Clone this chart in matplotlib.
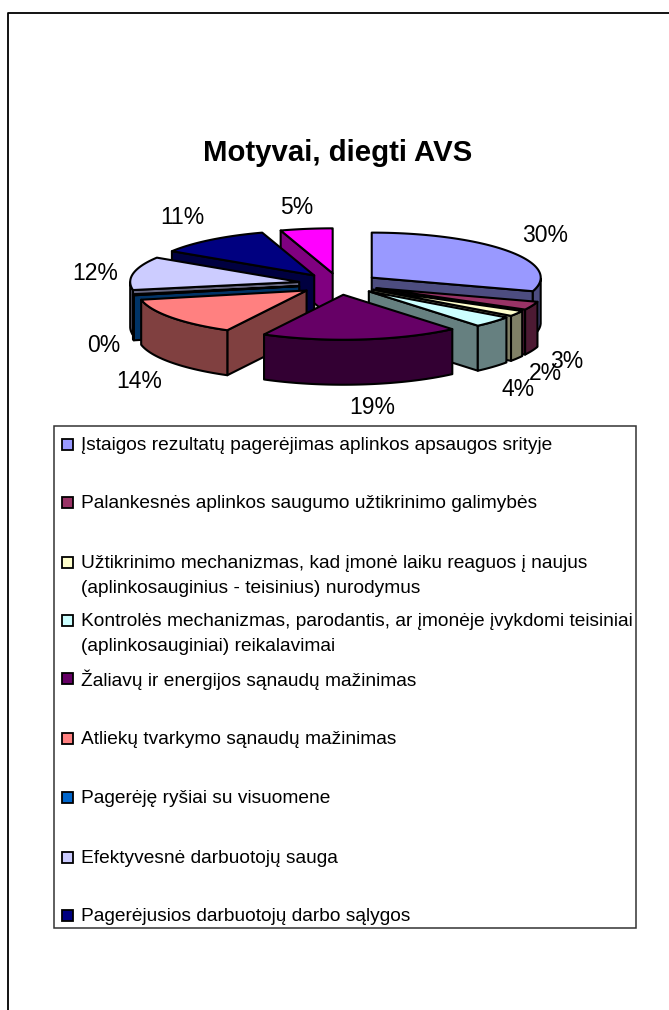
import numpy as np
import matplotlib
matplotlib.use("Agg")
import matplotlib.pyplot as plt
from matplotlib.patches import Polygon, Rectangle

plt.rcParams["font.family"] = ["Liberation Sans", "DejaVu Sans"]

# Data
title = "Motyvai, diegti AVS"
values = [30, 3, 2, 4, 19, 14, 0.4, 12, 11, 5]
top_colors = ["#9999ff", "#993366", "#ffffcc", "#ccffff", "#660066",
              "#ff8080", "#0066cc", "#ccccff", "#000080", "#ff00ff"]
legend_lines = [
    ["Įstaigos rezultatų pagerėjimas aplinkos apsaugos srityje"],
    ["Palankesnės aplinkos saugumo užtikrinimo galimybės"],
    ["Užtikrinimo mechanizmas, kad įmonė laiku reaguos į naujus",
     "(aplinkosauginius - teisinius) nurodymus"],
    ["Kontrolės mechanizmas, parodantis, ar įmonėje įvykdomi teisiniai",
     "(aplinkosauginiai) reikalavimai"],
    ["Žaliavų ir energijos sąnaudų mažinimas"],
    ["Atliekų tvarkymo sąnaudų mažinimas"],
    ["Pagerėję ryšiai su visuomene"],
    ["Efektyvesnė darbuotojų sauga"],
    ["Pagerėjusios darbuotojų darbo sąlygos"],
]

# Layout in pixels
cx, cy = 339, 284
rx, ry = 169, 45
depth = 45
explode = 0.24
label_pos = [(545, 235), (567, 362), (545, 373), (518, 390), (372, 407),
             (139, 382), (104, 345), (95, 273), (182, 218), (297, 207)]
legend_y = [444, 502, 562, 620, 678, 738, 797, 857, 915]

fig = plt.figure(figsize=(6.69, 10.10), dpi=100)
ax = fig.add_axes([0, 0, 1, 1])
ax.set_xlim(0, 669)
ax.set_ylim(1010, 0)
ax.axis("off")

# outer frame, open on the right and bottom
ax.plot([8, 8, 669], [1010, 13, 13], color="black", lw=1.3)


def darker(hex_color):
    rgb = np.array(matplotlib.colors.to_rgb(hex_color))
    return tuple(rgb * 0.5)


# Pie, drawn from the back to the front
total = sum(values)
edges = np.concatenate([[0], np.cumsum(values)]) / total * 2 * np.pi
mids = (edges[:-1] + edges[1:]) / 2
order = np.argsort(-np.cos(mids))

for i in order:
    a0, a1 = edges[i], edges[i + 1]
    ax0 = cx + explode * rx * np.sin(mids[i])
    ay0 = cy - explode * ry * np.cos(mids[i])
    t = np.linspace(a0, a1, 60)
    xs = ax0 + rx * np.sin(t)
    ys = ay0 - ry * np.cos(t)
    side = darker(top_colors[i])
    style = dict(facecolor=side, edgecolor="black", lw=1.5, joinstyle="round")

    # the two cut faces, only when they face the viewer
    if np.sin(a0) < 0:
        ax.add_patch(Polygon([(ax0, ay0), (xs[0], ys[0]), (xs[0], ys[0] + depth),
                              (ax0, ay0 + depth)], **style))
    if np.sin(a1) > 0:
        ax.add_patch(Polygon([(ax0, ay0), (xs[-1], ys[-1]), (xs[-1], ys[-1] + depth),
                              (ax0, ay0 + depth)], **style))
    # outer wall, only the part that faces the viewer
    front = np.cos(t) <= 0
    if front.sum() > 1:
        wall = list(zip(xs[front], ys[front])) + list(zip(xs[front][::-1], ys[front][::-1] + depth))
        ax.add_patch(Polygon(wall, **style))
    # top
    top = [(ax0, ay0)] + list(zip(xs, ys))
    ax.add_patch(Polygon(top, facecolor=top_colors[i], edgecolor="black", lw=1.5, joinstyle="round"))

for v, (lx, ly) in zip(values, label_pos):
    ax.text(lx, ly, f"{v:.0f}%", fontsize=16.5, ha="center", va="center", color="black")

ax.text(338, 153, title, fontsize=21.2, fontweight="bold", ha="center", va="center")

# Legend
ax.add_patch(Rectangle((54, 426), 582, 502, facecolor="white", edgecolor="#333333", lw=1.1))
for lines, y, c in zip(legend_lines, legend_y, top_colors):
    ax.add_patch(Rectangle((62, y - 5.5), 11, 11, facecolor=c, edgecolor="black", lw=1.3))
    for k, line in enumerate(lines):
        ax.text(81, y + 1.5 + k * 25, line, fontsize=13.8, ha="left", va="center", color="black")

fig.savefig("out.png", dpi=100)
